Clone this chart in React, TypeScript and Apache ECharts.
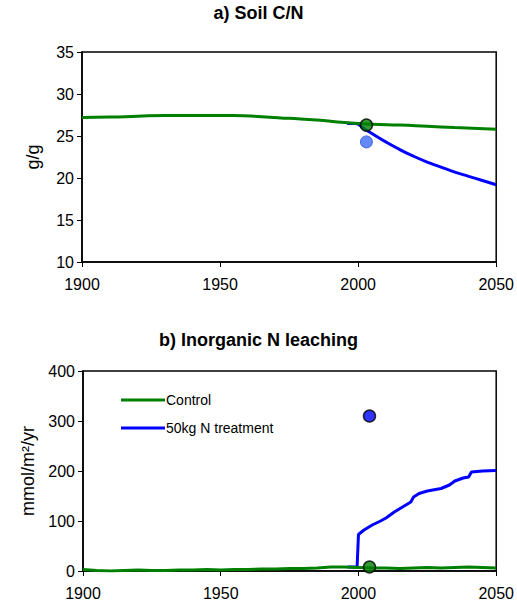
import * as echarts from 'echarts';
import React, { useEffect, useRef } from 'react';

const cnYears = [1900, 1910, 1920, 1930, 1940, 1955, 1965, 1975, 1985, 1995, 2005, 2015, 2025, 2035, 2050];
const cnControl = [27.2, 27.25, 27.35, 27.45, 27.45, 27.45, 27.3, 27.1, 26.9, 26.6, 26.4, 26.3, 26.15, 26.0, 25.8];
const cnTreatYears = [1996, 1999, 2002, 2005, 2010, 2015, 2020, 2025, 2030, 2035, 2040, 2045, 2050];
const cnTreat = [26.5, 26.5, 25.9, 25.3, 24.3, 23.4, 22.6, 21.9, 21.3, 20.7, 20.2, 19.7, 19.2];
const cnObs = [[2003, 26.3], [2003, 24.3]];

const leachYears = [1900, 1905, 1910, 1915, 1920, 1925, 1930, 1935, 1940, 1945, 1950, 1955, 1960, 1965, 1970, 1975, 1980, 1985, 1990, 1995, 2000, 2005, 2010, 2015, 2020, 2025, 2030, 2035, 2040, 2045, 2050];
const leachControl = [3, 1, 0, 1, 2, 1, 1, 2, 2, 3, 2, 3, 3, 4, 4, 5, 5, 6, 8, 8, 7, 6, 6, 5, 6, 7, 6, 7, 8, 7, 6];
const leachTreatYears = [1996, 1999.5, 2000, 2002, 2005, 2008, 2010, 2013, 2016, 2019, 2020, 2022, 2025, 2030, 2033, 2035, 2038, 2040, 2041, 2045, 2050];
const leachTreat = [8, 8, 73, 82, 92, 100, 106, 118, 128, 138, 148, 155, 160, 165, 172, 180, 186, 188, 198, 200, 201];
const leachObs = [[2004, 310], [2004, 8]];

const zip = (xs: number[], ys: number[]) => xs.map((x, i) => [x, ys[i]]);

const axisText = { color: '#000', fontSize: 16, fontFamily: 'Liberation Sans' };

const App: React.FC = () => {
  const ref = useRef<HTMLDivElement>(null);

  useEffect(() => {
    if (!ref.current) return;
    const chart = echarts.init(ref.current, null, { renderer: 'svg' });
    const xAxis = (gridIndex: number) => ({
      type: 'value' as const,
      gridIndex,
      min: 1900,
      max: 2050,
      interval: 50,
      splitLine: { show: false },
      axisLine: { lineStyle: { color: '#000', width: 1.5 } },
      axisTick: { lineStyle: { color: '#000' }, length: 5 },
      axisLabel: { ...axisText, margin: 14, formatter: (v: number) => String(v) },
    });
    const yAxis = (gridIndex: number, min: number, max: number, interval: number, name: string, gap: number) => ({
      type: 'value' as const,
      gridIndex,
      min,
      max,
      interval,
      name,
      nameLocation: 'middle' as const,
      nameGap: gap,
      nameTextStyle: { ...axisText, fontSize: 18 },
      splitLine: { show: false },
      axisLine: { show: true, lineStyle: { color: '#000', width: 1.5 } },
      axisTick: { show: true, lineStyle: { color: '#000' }, length: 5, inside: false },
      axisLabel: { ...axisText, margin: 8 },
    });
    chart.setOption({
      animation: false,
      title: [
        { text: 'a) Soil C/N', left: 'center', top: 4, textStyle: { fontSize: 18, fontWeight: 'bold', fontFamily: 'Liberation Sans', color: '#000' }, padding: [0, 0, 0, 30] },
        { text: 'b) Inorganic N leaching', left: 'center', top: 331, textStyle: { fontSize: 18, fontWeight: 'bold', fontFamily: 'Liberation Sans', color: '#000' }, padding: [0, 0, 0, 30] },
      ],
      legend: {
        orient: 'vertical',
        left: 116,
        top: 388,
        itemWidth: 44,
        itemHeight: 3,
        itemGap: 14,
        icon: 'rect',
        textStyle: { fontSize: 14, fontFamily: 'Liberation Sans', color: '#000', padding: [0, 0, 0, -4] },
        data: ['Control', '50kg N treatment'],
      },
      grid: [
        { left: 82, right: 19, top: 52, height: 210, show: true, borderColor: '#000', borderWidth: 1.5 },
        { left: 83, right: 20, top: 371, height: 200, show: true, borderColor: '#000', borderWidth: 1.5 },
      ],
      xAxis: [xAxis(0), xAxis(1)],
      yAxis: [yAxis(0, 10, 35, 5, 'g/g', 40), yAxis(1, 0, 400, 100, 'mmol/m²/yr', 46)],
      series: [
        { name: 'Control', type: 'line', xAxisIndex: 0, yAxisIndex: 0, data: zip(cnYears, cnControl), showSymbol: false, smooth: true, lineStyle: { color: '#008000', width: 3 }, itemStyle: { color: '#008000' }, z: 3 },
        { name: '50kg N treatment', type: 'line', xAxisIndex: 0, yAxisIndex: 0, data: zip(cnTreatYears, cnTreat), showSymbol: false, smooth: true, lineStyle: { color: '#0000ff', width: 3 }, itemStyle: { color: '#0000ff' }, z: 2 },
        { type: 'scatter', xAxisIndex: 0, yAxisIndex: 0, data: [cnObs[0]], symbolSize: 12, itemStyle: { color: '#008000', borderColor: '#000', borderWidth: 1.5 }, z: 5 },
        { type: 'scatter', xAxisIndex: 0, yAxisIndex: 0, data: [cnObs[1]], symbolSize: 12, itemStyle: { color: '#3f6cf5', borderColor: '#2a4fd8', borderWidth: 1 }, z: 5 },
        { name: 'Control', type: 'line', xAxisIndex: 1, yAxisIndex: 1, data: zip(leachYears, leachControl), showSymbol: false, lineStyle: { color: '#008000', width: 3 }, itemStyle: { color: '#008000' }, z: 3 },
        { name: '50kg N treatment', type: 'line', xAxisIndex: 1, yAxisIndex: 1, data: zip(leachTreatYears, leachTreat), showSymbol: false, lineStyle: { color: '#0000ff', width: 3 }, itemStyle: { color: '#0000ff' }, z: 2 },
        { type: 'scatter', xAxisIndex: 1, yAxisIndex: 1, data: [leachObs[0]], symbolSize: 12, itemStyle: { color: '#0000ff', borderColor: '#000', borderWidth: 1.5 }, z: 5 },
        { type: 'scatter', xAxisIndex: 1, yAxisIndex: 1, data: [leachObs[1]], symbolSize: 12, itemStyle: { color: '#008000', borderColor: '#000', borderWidth: 1.5 }, z: 5 },
      ],
    });
    return () => chart.dispose();
  }, []);

  return (
    <div
      ref={ref}
      style={{ position: 'absolute', left: 0, top: 0, width: 517, height: 606, background: '#fff' }}
    />
  );
};

export default App;
